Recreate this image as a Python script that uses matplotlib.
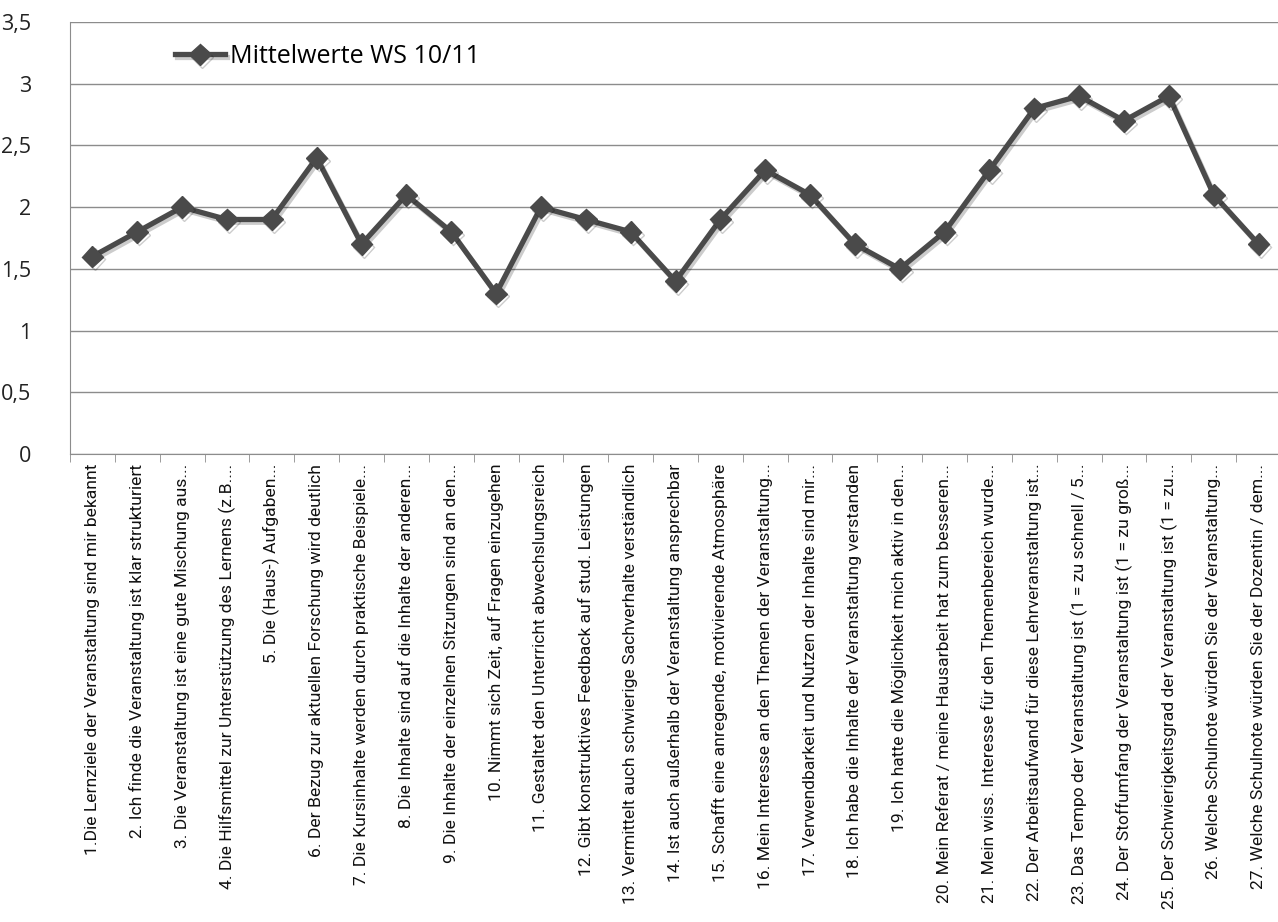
import matplotlib
matplotlib.use('Agg')
import matplotlib.pyplot as plt
import matplotlib.patheffects as pe
from matplotlib.ticker import FuncFormatter, MultipleLocator
import numpy as np

# Daten
labels = [
    '1.Die Lernziele der Veranstaltung sind mir bekannt',
    '2. Ich finde die Veranstaltung ist klar strukturiert',
    '3. Die Veranstaltung ist eine gute Mischung aus...',
    '4. Die Hilfsmittel zur Unterstützung des Lernens (z.B....',
    '5. Die (Haus-) Aufgaben...',
    '6. Der Bezug zur aktuellen Forschung wird deutlich',
    '7. Die Kursinhalte werden durch praktische Beispiele...',
    '8. Die Inhalte sind auf die Inhalte der anderen...',
    '9. Die Inhalte der einzelnen Sitzungen sind an den...',
    '10. Nimmt sich Zeit, auf Fragen einzugehen',
    '11. Gestaltet den Unterricht abwechslungsreich',
    '12. Gibt konstruktives Feedback auf stud. Leistungen',
    '13. Vermittelt auch schwierige Sachverhalte verständlich',
    '14. Ist auch außerhalb der Veranstaltung ansprechbar',
    '15. Schafft eine anregende, motivierende Atmosphäre',
    '16. Mein Interesse an den Themen der Veranstaltung...',
    '17. Verwendbarkeit und Nutzen der Inhalte sind mir...',
    '18. Ich habe die Inhalte der Veranstaltung verstanden',
    '19. Ich hatte die Möglichkeit mich aktiv in den...',
    '20. Mein Referat / meine Hausarbeit hat zum besseren...',
    '21. Mein wiss. Interesse für den Themenbereich wurde...',
    '22. Der Arbeitsaufwand für diese Lehrveranstaltung ist...',
    '23. Das Tempo der Veranstaltung ist (1 = zu schnell / 5...',
    '24. Der Stoffumfang der Veranstaltung ist (1 = zu groß...',
    '25. Der Schwierigkeitsgrad der Veranstaltung ist (1 = zu...',
    '26. Welche Schulnote würden Sie der Veranstaltung...',
    '27. Welche Schulnote würden Sie der Dozentin / dem...',
]
mittelwerte = [1.6, 1.8, 2.0, 1.9, 1.9, 2.4, 1.7, 2.1, 1.8, 1.3, 2.0, 1.9, 1.8, 1.4,
               1.9, 2.3, 2.1, 1.7, 1.5, 1.8, 2.3, 2.8, 2.9, 2.7, 2.9, 2.1, 1.7]
serie = 'Mittelwerte WS 10/11'

fig = plt.figure(figsize=(12.78, 9.22), dpi=100)
ax = fig.add_axes([70/1278, (922-454)/922, 1211/1278, 432/922])

x = np.arange(len(mittelwerte))
ax.plot(x, mittelwerte, color='#4a4a4a', lw=3.8, marker='D', ms=11,
        markerfacecolor='#4a4a4a', markeredgecolor='#4a4a4a', label=serie,
        path_effects=[pe.SimpleLineShadow(offset=(1.5, -2), shadow_color='k', alpha=0.2), pe.Normal()])

ax.set_xlim(-0.5, len(mittelwerte) - 0.5)
ax.set_ylim(0, 3.5)
ax.yaxis.set_major_locator(MultipleLocator(0.5))
ax.yaxis.set_major_formatter(FuncFormatter(lambda v, p: ('%g' % v).replace('.', ',')))
ax.grid(axis='y', color='#8c8c8c', lw=1)
ax.set_axisbelow(True)

for s in ['top', 'right']:
    ax.spines[s].set_visible(False)
for s in ['left', 'bottom']:
    ax.spines[s].set_color('#8c8c8c')

ax.tick_params(axis='y', length=0, pad=28, labelsize=15.5, labelcolor='#222222')
for t in ax.get_yticklabels():
    t.set_family(['Open Sans', 'DejaVu Sans'])
    t.set_horizontalalignment('right')

ax.set_xticks(x)
ax.set_xticklabels(labels, rotation=90, ha='right', va='center', rotation_mode='anchor',
                   fontsize=12.6, family=['Roboto', 'DejaVu Sans'], color='#111111')
ax.tick_params(axis='x', which='major', length=0, pad=7)
ax.set_xticks(np.arange(-0.5, len(mittelwerte)), minor=True)
ax.tick_params(axis='x', which='minor', length=6, color='#8c8c8c', direction='out')

leg = ax.legend(loc='center left', bbox_to_anchor=(0.068, 0.92), frameon=False,
                handlelength=2.0, handletextpad=0.2,
                prop={'family': 'Open Sans', 'size': 18})

fig.savefig('out.png', dpi=100)
